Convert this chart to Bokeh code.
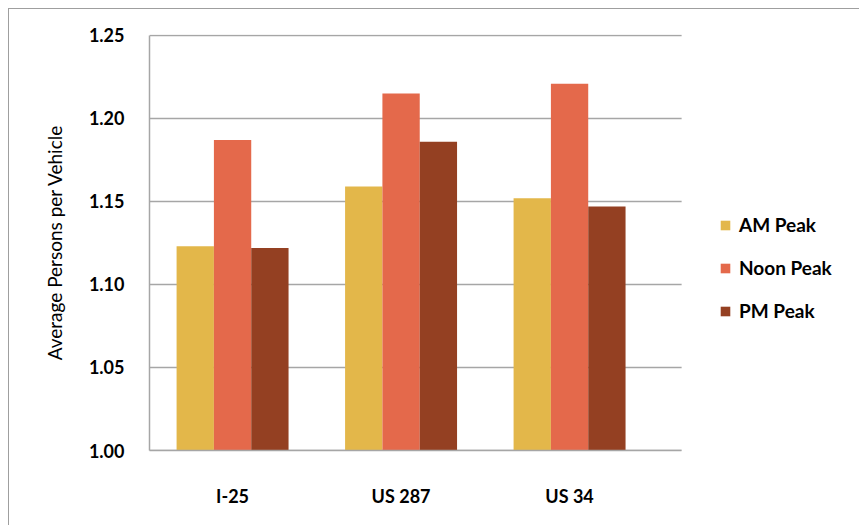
from bokeh.plotting import figure
from bokeh.models import (ColumnDataSource, Range1d, FixedTicker, NumeralTickFormatter,
                          Legend, LegendItem)
from bokeh.transform import dodge
from bokeh.embed import file_html
from bokeh.resources import INLINE

# Average vehicle occupancy by corridor and peak period
corridors = ["I-25", "US 287", "US 34"]
am_peak = [1.123, 1.159, 1.152]
noon_peak = [1.187, 1.215, 1.221]
pm_peak = [1.122, 1.186, 1.147]
y_ticks = [1.00, 1.05, 1.10, 1.15, 1.20, 1.25]

series = [
    ("AM Peak", "am", am_peak, "#E3B74A"),
    ("Noon Peak", "noon", noon_peak, "#E4694B"),
    ("PM Peak", "pm", pm_peak, "#944022"),
]

FONT = "Lato"
GRID = "#a6a6a6"
BAR_W = 0.2215
X_LO, X_HI = -0.493, 2.665     # extent of the plotting area proper
X_END = 3.7266                 # extra room on the right holds the legend

src = ColumnDataSource(dict(
    x=list(range(len(corridors))),
    am=am_peak, noon=noon_peak, pm=pm_peak,
))

p = figure(
    width=851, height=517,
    x_range=Range1d(X_LO, X_END),
    y_range=Range1d(1.0, 1.2506),
    output_backend="svg", toolbar_location=None,
    min_border_left=140, min_border_top=25,
    min_border_bottom=76, min_border_right=0,
)
# chart-area border (top and left edges)
p.styles = {
    "margin-left": "8px", "margin-top": "8px",
    "border-left": "1.5px solid #9f9f9f", "border-top": "1.5px solid #9f9f9f",
}
p.outline_line_color = None
p.background_fill_color = "white"

# horizontal gridlines limited to the plotting area
p.xgrid.grid_line_color = None
p.ygrid.grid_line_color = None
p.segment(x0=X_LO, x1=X_HI, y0=y_ticks, y1=y_ticks, line_color=GRID, line_width=1.5)

items = []
for (label, col, _, color), off in zip(series, [-BAR_W, 0, BAR_W]):
    r = p.vbar(x=dodge("x", off), top=col, bottom=1.0, width=BAR_W,
               source=src, fill_color=color, line_color=None)
    items.append(LegendItem(label=label, renderers=[r]))

# Axes
p.xaxis.ticker = FixedTicker(ticks=list(range(len(corridors))))
p.xaxis.major_label_overrides = {i: c for i, c in enumerate(corridors)}
p.xaxis.bounds = (X_LO, X_HI)
p.yaxis.ticker = FixedTicker(ticks=y_ticks)
p.yaxis.formatter = NumeralTickFormatter(format="0.00")
p.yaxis.bounds = (1.0, 1.25)

for ax in (p.xaxis, p.yaxis):
    ax.axis_line_color = GRID
    ax.axis_line_width = 1.5
    ax.major_tick_line_color = None
    ax.minor_tick_line_color = None
    ax.major_label_text_font = FONT
    ax.major_label_text_font_style = "bold"
    ax.major_label_text_color = "black"
    ax.major_label_text_font_size = "18px"

p.xaxis.major_label_standoff = 28
p.yaxis.major_label_standoff = 19
p.yaxis.axis_label = "Average Persons per Vehicle"
p.yaxis.axis_label_text_font = FONT
p.yaxis.axis_label_text_font_style = "normal"
p.yaxis.axis_label_text_font_size = "19px"
p.yaxis.axis_label_text_color = "black"
p.yaxis.axis_label_standoff = 20

# Legend to the right of the bars, offset from the frame's lower-left corner
legend = Legend(items=items, location=(570, 128))
legend.border_line_color = None
legend.background_fill_alpha = 0
legend.glyph_width = 12
legend.glyph_height = 12
legend.label_height = 22
legend.spacing = 20
legend.padding = 0
legend.margin = 0
legend.label_standoff = 8
legend.label_text_font = FONT
legend.label_text_font_style = "bold"
legend.label_text_font_size = "19px"
legend.label_text_color = "black"
p.add_layout(legend)

open("out.html", "w").write(file_html(p, INLINE))
